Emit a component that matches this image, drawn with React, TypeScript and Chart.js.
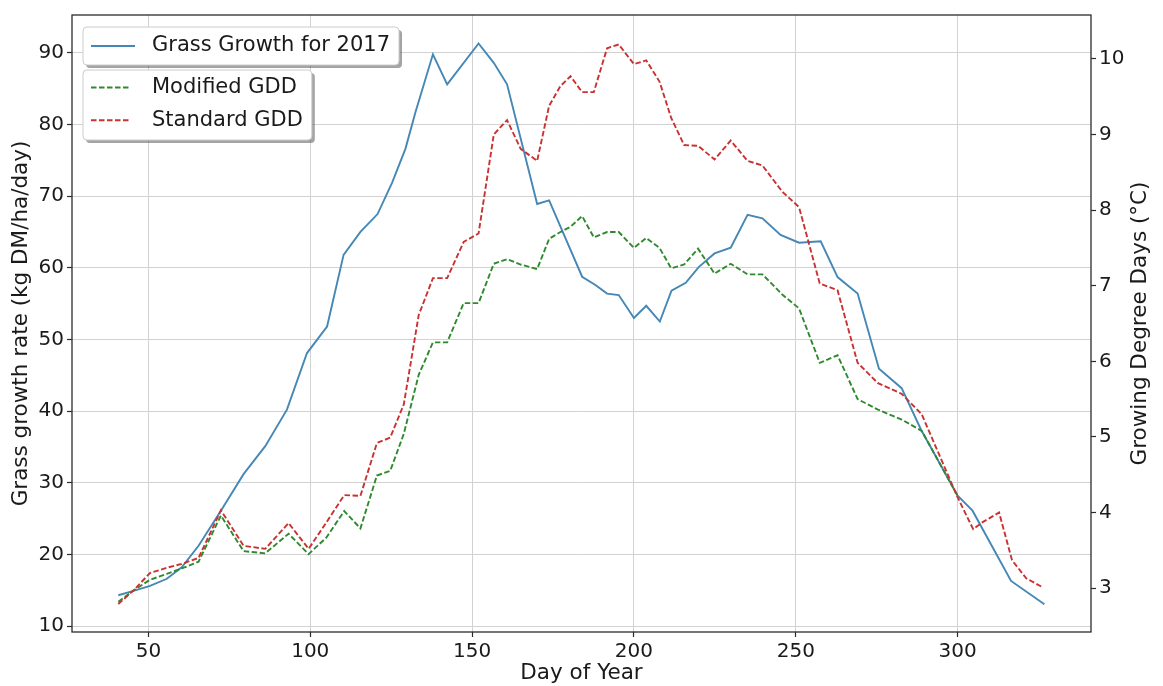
import { useEffect, useRef } from 'react';
import { Chart, registerables } from 'chart.js';

Chart.register(...registerables);

// Grass growth (kg DM/ha/day) sampled through the 2017 season
const growthDays = [
  40.7, 45.4, 50.5, 55.7, 60.3, 65.5, 72.4, 79.4, 86.1, 92.8, 99, 105.2, 110.3, 115.5, 120.8,
  125.3, 129.4, 132.5, 137.9, 142.3, 152, 156.7, 160.8, 170.1, 173.8, 184, 188.1, 191.7, 195.3,
  200, 203.8, 208, 211.6, 216, 220, 224.9, 229.9, 235.1, 239.7, 245.3, 251, 257.7, 262.9, 269.1,
  275.7, 282.7, 288.7, 300, 304.6, 310.8, 316.5, 326.8,
];
const growthRate = [
  14.3, 14.9, 15.6, 16.6, 18.2, 21.2, 26.1, 31.2, 35.1, 40.2, 48.1, 51.8, 61.8, 65.0, 67.5,
  71.9, 76.6, 81.7, 89.8, 85.6, 91.3, 88.6, 85.6, 68.9, 69.4, 58.75, 57.6, 56.4, 56.2,
  53.0, 54.7, 52.5, 56.8, 57.9, 60.1, 62.0, 62.8, 67.4, 66.9, 64.6, 63.5, 63.7, 58.7, 56.4,
  45.9, 43.2, 37.4, 28.2, 26.1, 21.0, 16.3, 13.05,
];

// Growing degree days (°C) on the same season
const gddDays = [
  40.7, 45.4, 50.5, 55.7, 60.3, 65.5, 72.4, 79.4, 86.1, 93.3, 99.5, 105, 110.5, 115.5, 120.6,
  124.7, 128.9, 133.5, 137.9, 142.3, 147.4, 152, 156.7, 160.8, 165, 170.1, 173.8, 177.3, 180.4,
  184, 187.6, 191.7, 195.3, 200, 203.8, 207.9, 211.5, 215.5, 219.8, 224.9, 229.9, 235.1, 239.7,
  245.9, 251, 257.4, 262.9, 269.1, 275.4, 282.7, 288.9, 300, 304.8, 307.6, 312.8, 316.8, 321.2,
  326.3,
];
const standardGdd = [
  2.79, 2.97, 3.2, 3.27, 3.32, 3.4, 4.03, 3.56, 3.52, 3.86, 3.52, 3.87, 4.23, 4.22, 4.92,
  4.99, 5.43, 6.61, 7.1, 7.1, 7.58, 7.69, 9.0, 9.19, 8.81, 8.65, 9.38, 9.64, 9.77,
  9.56, 9.56, 10.14, 10.19, 9.93, 9.98, 9.7, 9.22, 8.86, 8.85, 8.67, 8.92, 8.65, 8.59,
  8.24, 8.04, 7.03, 6.94, 5.98, 5.71, 5.57, 5.3, 4.2, 3.78, 3.87, 4.0, 3.37, 3.13,
  3.01,
];
// Modified GDD stops at day 300
const modifiedGdd = [
  2.82, 2.97, 3.11, 3.19, 3.26, 3.35, 3.96, 3.49, 3.46, 3.72, 3.45, 3.67, 4.02, 3.79, 4.49,
  4.55, 5.04, 5.82, 6.25, 6.25, 6.77, 6.77, 7.29, 7.35, 7.28, 7.22, 7.62, 7.71, 7.78,
  7.92, 7.64, 7.71, 7.71, 7.5, 7.63, 7.5, 7.23, 7.28, 7.49, 7.16, 7.29, 7.15, 7.15,
  6.88, 6.7, 5.98, 6.08, 5.5, 5.36, 5.23, 5.08, 4.22,
];

const dayTicks = [50, 100, 150, 200, 250, 300];
const growthTicks = [10, 20, 30, 40, 50, 60, 70, 80, 90];
const gddTicks = [3, 4, 5, 6, 7, 8, 9, 10];

const seriesLabels = ['Grass Growth for 2017', 'Modified GDD', 'Standard GDD'];
const legendGroups = [[0], [1, 2]];

const FONT = '"DejaVu Sans", sans-serif';
const TEXT = '#1a1a1a';
const SPINE = '#2b2b2b';
const GRID = '#d2d2d2';
const TITLE_SIZE = 21.5;
const LEGEND_SIZE = 21;

function pairs(xs: number[], ys: number[]) {
  return ys.map((y, i) => ({ x: xs[i], y }));
}

function roundRect(ctx: CanvasRenderingContext2D, x: number, y: number, w: number, h: number, r: number) {
  ctx.beginPath();
  ctx.moveTo(x + r, y);
  ctx.lineTo(x + w - r, y);
  ctx.quadraticCurveTo(x + w, y, x + w, y + r);
  ctx.lineTo(x + w, y + h - r);
  ctx.quadraticCurveTo(x + w, y + h, x + w - r, y + h);
  ctx.lineTo(x + r, y + h);
  ctx.quadraticCurveTo(x, y + h, x, y + h - r);
  ctx.lineTo(x, y + r);
  ctx.quadraticCurveTo(x, y, x + r, y);
  ctx.closePath();
}

const framePlugin = {
  id: 'frameAndLegends',
  afterDraw(chart: any) {
    const ctx: CanvasRenderingContext2D = chart.ctx;
    const area = chart.chartArea;
    ctx.save();

    // axes box
    ctx.strokeStyle = SPINE;
    ctx.lineWidth = 1.3;
    ctx.strokeRect(area.left, area.top, area.right - area.left, area.bottom - area.top);

    // right axis title, reading bottom to top
    ctx.fillStyle = TEXT;
    ctx.font = `${TITLE_SIZE}px ${FONT}`;
    ctx.textAlign = 'center';
    ctx.textBaseline = 'middle';
    ctx.save();
    ctx.translate(1140, (area.top + area.bottom) / 2);
    ctx.rotate(-Math.PI / 2);
    ctx.fillText('Growing Degree Days (°C)', 0, 0);
    ctx.restore();

    // two legend boxes in the upper-left corner
    const boxLeft = area.left + 11;
    const layouts = [
      { top: area.top + 12, h: 38, first: 19, step: 0 },
      { top: area.top + 55, h: 70, first: 17.5, step: 32.7 },
    ];
    ctx.font = `${LEGEND_SIZE}px ${FONT}`;
    legendGroups.forEach((group, g) => {
      const { top, h, first, step } = layouts[g];
      const widest = Math.max(...group.map((i) => ctx.measureText(chart.data.datasets[i].label).width));
      const w = 69 + widest + 9;
      ctx.fillStyle = 'rgba(90,90,90,0.55)';
      roundRect(ctx, boxLeft + 3, top + 3, w, h, 4);
      ctx.fill();
      ctx.fillStyle = '#ffffff';
      roundRect(ctx, boxLeft, top, w, h, 4);
      ctx.fill();
      ctx.strokeStyle = '#cccccc';
      ctx.lineWidth = 1;
      ctx.stroke();
      group.forEach((idx, r) => {
        const ds = chart.data.datasets[idx];
        const cy = top + first + r * step;
        ctx.strokeStyle = ds.borderColor;
        ctx.lineWidth = ds.borderWidth;
        ctx.setLineDash(ds.borderDash || []);
        ctx.beginPath();
        ctx.moveTo(boxLeft + 8, cy);
        ctx.lineTo(boxLeft + (ds.borderDash ? 48 : 52), cy);
        ctx.stroke();
        ctx.setLineDash([]);
        ctx.fillStyle = TEXT;
        ctx.textAlign = 'left';
        ctx.textBaseline = 'middle';
        ctx.fillText(ds.label, boxLeft + 69, cy);
      });
    });
    ctx.restore();
  },
};

export default function App() {
  const canvasRef = useRef<HTMLCanvasElement | null>(null);

  useEffect(() => {
    const canvas = canvasRef.current;
    if (!canvas) return;
    const tickFont = { family: FONT, size: 20 };
    const chart = new Chart(canvas, {
      type: 'line',
      data: {
        datasets: [
          {
            label: seriesLabels[0],
            data: pairs(growthDays, growthRate),
            yAxisID: 'y',
            borderColor: '#4587b5',
            borderWidth: 1.9,
            pointRadius: 0,
            tension: 0,
            order: 3,
          },
          {
            label: seriesLabels[1],
            data: pairs(gddDays, modifiedGdd),
            yAxisID: 'y1',
            borderColor: '#2f8a2f',
            borderWidth: 1.9,
            borderDash: [5.5, 2.5],
            pointRadius: 0,
            tension: 0,
            order: 2,
          },
          {
            label: seriesLabels[2],
            data: pairs(gddDays, standardGdd),
            yAxisID: 'y1',
            borderColor: '#c93232',
            borderWidth: 1.9,
            borderDash: [5.5, 2.5],
            pointRadius: 0,
            tension: 0,
            order: 1,
          },
        ],
      },
      options: {
        animation: false,
        responsive: false,
        parsing: false as any,
        layout: { padding: { top: 12, left: 0, right: 0, bottom: 0 } },
        plugins: { legend: { display: false }, tooltip: { enabled: false } },
        scales: {
          x: {
            type: 'linear',
            min: 26.4,
            max: 341.2,
            afterFit: (s: any) => { s.height = 54; },
            afterBuildTicks: (s: any) => { s.ticks = dayTicks.map((v) => ({ value: v })); },
            ticks: { font: tickFont, color: TEXT, padding: 3, maxRotation: 0 },
            grid: { color: GRID, lineWidth: 1, tickLength: 5, tickColor: SPINE, tickWidth: 1.2 },
            border: { display: false },
            title: {
              display: true,
              text: 'Day of Year',
              font: { family: FONT, size: TITLE_SIZE },
              color: TEXT,
              padding: { top: 0, bottom: 0 },
            },
          },
          y: {
            type: 'linear',
            position: 'left',
            min: 9.17,
            max: 95.28,
            afterFit: (s: any) => { s.width = 72; },
            afterBuildTicks: (s: any) => { s.ticks = growthTicks.map((v) => ({ value: v })); },
            ticks: { font: tickFont, color: TEXT, padding: 3 },
            grid: { color: GRID, lineWidth: 1, tickLength: 5, tickColor: SPINE, tickWidth: 1.2 },
            border: { display: false },
            title: {
              display: true,
              text: 'Grass growth rate (kg DM/ha/day)',
              font: { family: FONT, size: TITLE_SIZE },
              color: TEXT,
              padding: { top: 9, bottom: 0 },
            },
          },
          y1: {
            type: 'linear',
            position: 'right',
            min: 2.42,
            max: 10.58,
            afterFit: (s: any) => { s.width = 72; },
            afterBuildTicks: (s: any) => { s.ticks = gddTicks.map((v) => ({ value: v })); },
            ticks: { font: tickFont, color: TEXT, padding: 3 },
            grid: { drawOnChartArea: false, tickLength: 5, tickColor: SPINE, tickWidth: 1.2 },
            border: { display: false },
          },
        },
      },
      plugins: [framePlugin],
    } as any);
    return () => chart.destroy();
  }, []);

  return (
    <div style={{ position: 'fixed', left: 0, top: 0, width: 1163, height: 686, background: '#fff' }}>
      <canvas ref={canvasRef} width={1163} height={686} style={{ display: 'block' }} />
    </div>
  );
}
